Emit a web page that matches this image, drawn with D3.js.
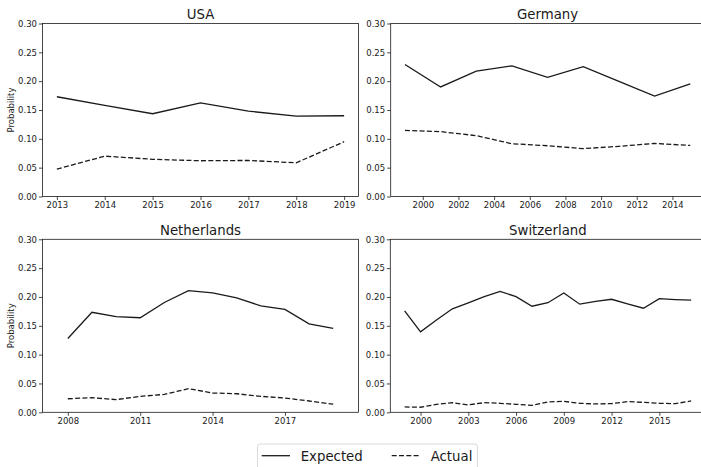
<!DOCTYPE html>
<html>
<head>
<meta charset="utf-8">
<script src="https://cdn.jsdelivr.net/npm/d3@7"></script>
<style>
  body { margin: 0; background: #fff; }
  svg { display: block; font-family: "DejaVu Sans", sans-serif; }
</style>
</head>
<body>
<svg id="chart" width="701" height="467"></svg>
<script>
// Probability of an event per year: expected vs actual, four countries
const seriesNames = ["Expected", "Actual"];
const yTicks = [0, 0.05, 0.10, 0.15, 0.20, 0.25, 0.30];

const usaYears = [2013, 2014, 2015, 2016, 2017, 2018, 2019];
const usaExpected = [0.173, 0.158, 0.1435, 0.1625, 0.148, 0.1395, 0.140];
const usaActual = [0.0475, 0.070, 0.0645, 0.062, 0.0625, 0.0585, 0.095];
const usaTicks = [2013, 2014, 2015, 2016, 2017, 2018, 2019];

const germanyYears = [1999, 2001, 2003, 2005, 2007, 2009, 2011, 2013, 2015];
const germanyExpected = [0.229, 0.190, 0.2175, 0.2265, 0.2065, 0.225, 0.1995, 0.174, 0.1955];
const germanyActual = [0.1145, 0.1125, 0.1055, 0.0915, 0.088, 0.083, 0.087, 0.092, 0.0885];
const germanyTicks = [2000, 2002, 2004, 2006, 2008, 2010, 2012, 2014];

const netherlandsYears = [2008, 2009, 2010, 2011, 2012, 2013, 2014, 2015, 2016, 2017, 2018, 2019];
const netherlandsExpected = [0.128, 0.1735, 0.166, 0.164, 0.1905, 0.211, 0.207, 0.1985, 0.1845, 0.1785, 0.1535, 0.1455];
const netherlandsActual = [0.0235, 0.0253, 0.022, 0.0277, 0.031, 0.041, 0.0335, 0.0322, 0.0277, 0.0248, 0.0196, 0.014];
const netherlandsTicks = [2008, 2011, 2014, 2017];

const switzerlandYears = [1999, 2000, 2001, 2002, 2003, 2004, 2005, 2006, 2007, 2008, 2009, 2010, 2011, 2012, 2013, 2014, 2015, 2016, 2017];
const switzerlandExpected = [0.176, 0.1395, 0.160, 0.1795, 0.1897, 0.2005, 0.2098, 0.2005, 0.184, 0.190, 0.207, 0.1875, 0.1925, 0.196, 0.188, 0.1805, 0.197, 0.1955, 0.1945];
const switzerlandActual = [0.0093, 0.0088, 0.0138, 0.0167, 0.0128, 0.0167, 0.0156, 0.0139, 0.0121, 0.018, 0.019, 0.0156, 0.0145, 0.015, 0.0185, 0.0173, 0.0156, 0.015, 0.0197];
const switzerlandTicks = [2000, 2003, 2006, 2009, 2012, 2015];

// Panel frames (pixels) and x-extents
const panels = [
  { title: "USA", years: usaYears, expected: usaExpected, actual: usaActual, ticks: usaTicks,
    xDomain: [2012.7, 2019.3], left: 42.5, right: 358.5, top: 23.5, bottom: 196.5, yLabel: true },
  { title: "Germany", years: germanyYears, expected: germanyExpected, actual: germanyActual, ticks: germanyTicks,
    xDomain: [1998.2, 2015.8], left: 390.7, right: 704.5, top: 23.5, bottom: 196.5, yLabel: false },
  { title: "Netherlands", years: netherlandsYears, expected: netherlandsExpected, actual: netherlandsActual, ticks: netherlandsTicks,
    xDomain: [2006.95, 2020.05], left: 42.5, right: 358.5, top: 239.3, bottom: 412.3, yLabel: true },
  { title: "Switzerland", years: switzerlandYears, expected: switzerlandExpected, actual: switzerlandActual, ticks: switzerlandTicks,
    xDomain: [1998.1, 2017.9], left: 390.3, right: 705.5, top: 239.3, bottom: 412.3, yLabel: false }
];

const ink = "#1a1a1a";
const dash = "5,2.3";
const svg = d3.select("#chart");

panels.forEach(p => {
  const x = d3.scaleLinear().domain(p.xDomain).range([p.left, p.right]);
  const y = d3.scaleLinear().domain([0, 0.30]).range([p.bottom, p.top]);
  const g = svg.append("g");

  // y axis
  const ya = g.append("g").attr("transform", `translate(${p.left},0)`)
    .call(d3.axisLeft(y).tickValues(yTicks).tickFormat(d3.format(".2f"))
      .tickSize(3.5).tickPadding(2).tickSizeOuter(0));
  // x axis
  const xa = g.append("g").attr("transform", `translate(0,${p.bottom})`)
    .call(d3.axisBottom(x).tickValues(p.ticks).tickFormat(d3.format("d"))
      .tickSize(3.5).tickPadding(2).tickSizeOuter(0));
  [ya, xa].forEach(a => {
    a.select(".domain").remove();
    a.selectAll(".tick line").attr("stroke", ink).attr("stroke-width", 0.8);
    a.selectAll(".tick text").attr("fill", ink).style("font-size", "8.5px")
      .style("font-family", "'DejaVu Sans', sans-serif");
  });

  // frame
  g.append("rect")
    .attr("x", p.left).attr("y", p.top)
    .attr("width", p.right - p.left).attr("height", p.bottom - p.top)
    .attr("fill", "none").attr("stroke", ink).attr("stroke-width", 0.8);

  // title
  g.append("text")
    .attr("x", (p.left + p.right) / 2).attr("y", p.top - 4.5)
    .attr("text-anchor", "middle").attr("fill", ink)
    .style("font-size", "13.3px").text(p.title);

  if (p.yLabel) {
    g.append("text")
      .attr("transform", `translate(13.5,${(p.top + p.bottom) / 2}) rotate(-90)`)
      .attr("text-anchor", "middle").attr("fill", ink)
      .style("font-size", "8.5px").text("Probability");
  }

  const line = d3.line().x((d, i) => x(p.years[i])).y(d => y(d));
  g.append("path").datum(p.expected)
    .attr("d", line).attr("fill", "none").attr("stroke", ink).attr("stroke-width", 1.3);
  g.append("path").datum(p.actual)
    .attr("d", line).attr("fill", "none").attr("stroke", ink).attr("stroke-width", 1.3)
    .attr("stroke-dasharray", dash);
});

// legend
const lg = svg.append("g");
lg.append("rect").attr("x", 257.5).attr("y", 444).attr("width", 220).attr("height", 34)
  .attr("rx", 2.5).attr("fill", "#fff").attr("stroke", "#d6d6d6").attr("stroke-width", 0.9);
const legendItems = [
  { name: seriesNames[0], x0: 261.7, dashed: false },
  { name: seriesNames[1], x0: 391.7, dashed: true }
];
legendItems.forEach(it => {
  lg.append("line").attr("x1", it.x0).attr("x2", it.x0 + 28.3)
    .attr("y1", 455.7).attr("y2", 455.7)
    .attr("stroke", ink).attr("stroke-width", 1.3)
    .attr("stroke-dasharray", it.dashed ? dash : null);
  lg.append("text").attr("x", it.x0 + 39).attr("y", 460.7)
    .attr("fill", ink).style("font-size", "13.3px").text(it.name);
});
</script>
</body>
</html>
